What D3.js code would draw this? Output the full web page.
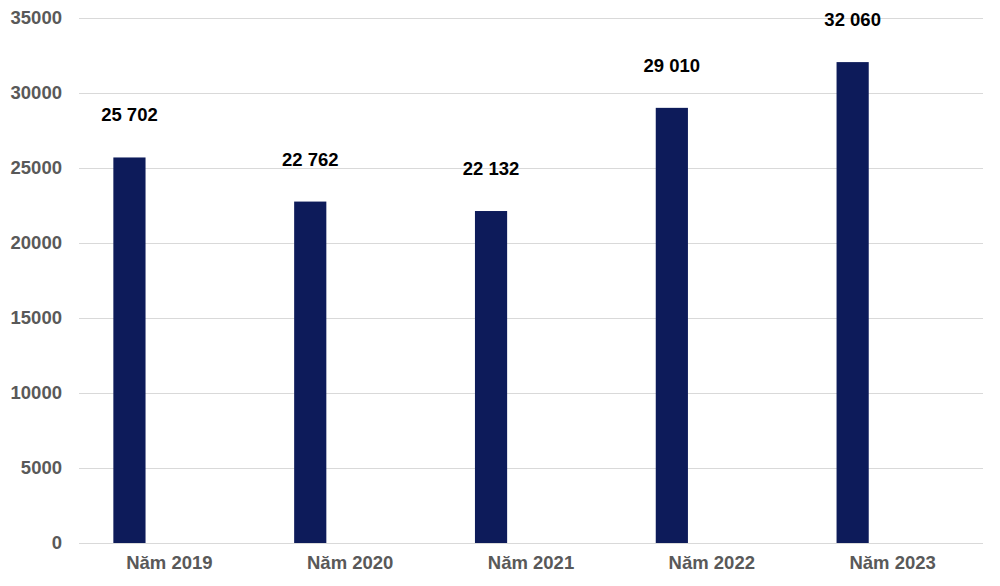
<!DOCTYPE html>
<html>
<head>
<meta charset="utf-8">
<script src="https://cdn.jsdelivr.net/npm/d3@7"></script>
<style>
  body { margin: 0; background: #fff; }
  svg { display: block; font-family: "Liberation Sans", Arial, sans-serif; }
</style>
</head>
<body>
<svg id="chart" width="1000" height="586"></svg>
<script>
const categories = ['Năm 2019', 'Năm 2020', 'Năm 2021', 'Năm 2022', 'Năm 2023']
const values = [25702, 22762, 22132, 29010, 32060]
const valueLabels = ['25 702', '22 762', '22 132', '29 010', '32 060']
const yTicks = [0, 5000, 10000, 15000, 20000, 25000, 30000, 35000]

const svg = d3.select('#chart')
const margin = { top: 18, right: 17, bottom: 43, left: 79 }
const width = 1000 - margin.left - margin.right
const height = 586 - margin.top - margin.bottom
const fontSize = 18.5

const xScale = d3.scaleBand()
  .domain(categories)
  .range([margin.left, margin.left + width])

const yScale = d3.scaleLinear()
  .domain([0, 35000])
  .range([margin.top + height, margin.top])

// gridlines
svg.append('g')
  .selectAll('line')
  .data(yTicks)
  .enter()
  .append('line')
  .attr('x1', margin.left)
  .attr('x2', margin.left + width)
  .attr('y1', d => Math.round(yScale(d)) + 0.5)
  .attr('y2', d => Math.round(yScale(d)) + 0.5)
  .attr('stroke', '#d9d9d9')
  .attr('stroke-width', 1)

// y axis labels
const yAxis = d3.axisLeft(yScale)
  .tickValues(yTicks)
  .tickFormat(d3.format('d'))
  .tickSize(0)
  .tickPadding(17)
svg.append('g')
  .attr('transform', `translate(${margin.left}, 0)`)
  .call(yAxis)
  .call(g => g.select('.domain').remove())
  .selectAll('text')
  .attr('fill', '#595959')
  .attr('font-size', fontSize)
  .attr('font-weight', 'bold')
  .attr('font-family', '"Liberation Sans", Arial, sans-serif')

// x axis labels
const xAxis = d3.axisBottom(xScale).tickSize(0).tickPadding(13)
svg.append('g')
  .attr('transform', `translate(0, ${margin.top + height})`)
  .call(xAxis)
  .call(g => g.select('.domain').remove())
  .selectAll('text')
  .attr('fill', '#595959')
  .attr('font-size', fontSize)
  .attr('font-weight', 'bold')
  .attr('font-family', '"Liberation Sans", Arial, sans-serif')

// bars sit in the left half of each band (second series is empty)
const barOffset = xScale.bandwidth() * 0.19
const barWidth = xScale.bandwidth() * 0.178

svg.append('g')
  .selectAll('rect')
  .data(values)
  .enter()
  .append('rect')
  .attr('x', (d, i) => xScale(categories[i]) + barOffset)
  .attr('y', d => yScale(d))
  .attr('width', barWidth)
  .attr('height', d => yScale(0) - yScale(d))
  .attr('fill', '#0d1b5a')

svg.append('g')
  .selectAll('text')
  .data(values)
  .enter()
  .append('text')
  .attr('x', (d, i) => xScale(categories[i]) + barOffset + barWidth / 2)
  .attr('y', d => yScale(d) - 36)
  .attr('text-anchor', 'middle')
  .attr('font-size', fontSize)
  .attr('font-weight', 'bold')
  .attr('fill', '#000')
  .text((d, i) => valueLabels[i])
</script>
</body>
</html>
